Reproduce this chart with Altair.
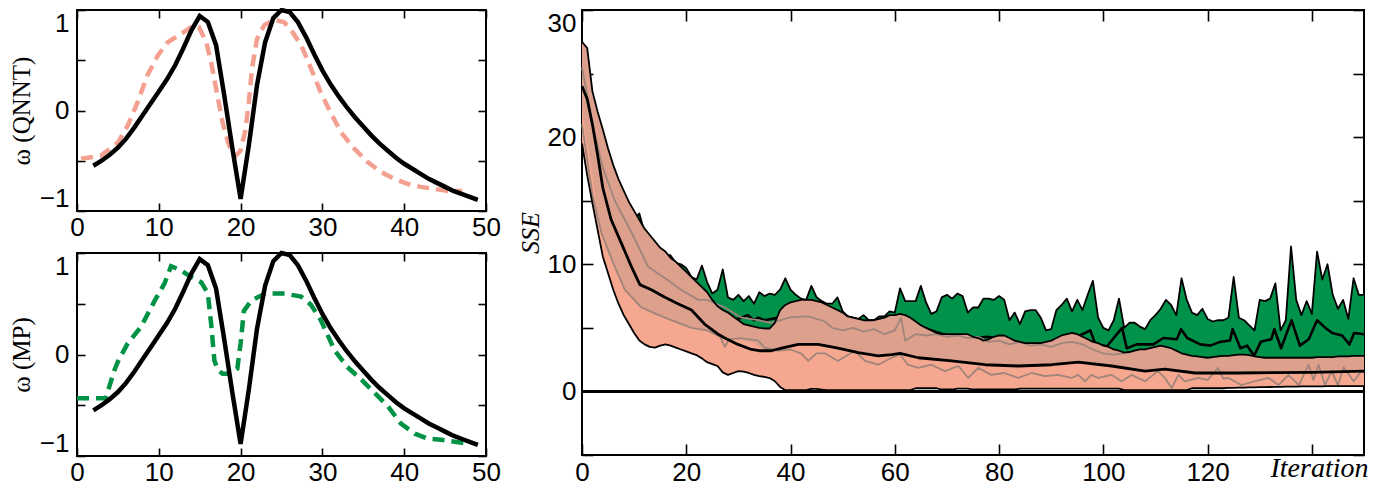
import altair as alt
import pandas as pd

# ---------------- left panels: omega profiles ----------------
omega_x = list(range(2, 50))
omega_true = [-0.55, -0.50, -0.44, -0.37, -0.28, -0.17, -0.05, 0.07, 0.19, 0.31,
              0.45, 0.62, 0.80, 0.94, 0.88, 0.65, 0.15, -0.38, -0.88, -0.35,
              0.25, 0.68, 0.92, 1.0, 0.98, 0.88, 0.73, 0.56, 0.40, 0.26,
              0.14, 0.03, -0.07, -0.16, -0.25, -0.33, -0.40, -0.47, -0.53, -0.58,
              -0.63, -0.68, -0.72, -0.76, -0.80, -0.83, -0.86, -0.89]

qnnt_x = [0.5, 2.9, 5.0, 6.2, 7.4, 8.6, 9.9, 11.1, 12.7, 14.3,
          14.9, 15.8, 16.4, 17.0, 17.8, 18.6, 19.4, 20.0, 20.6, 21.0,
          21.4, 22.0, 22.9, 24.1, 25.3, 26.1, 27.4, 28.6, 29.8, 31.0,
          32.3, 33.9, 35.5, 37.1, 38.8, 40.4, 42.0, 43.7, 45.3, 47.1]
qnnt_y = [-0.48, -0.45, -0.32, -0.15, 0.08, 0.35, 0.55, 0.68, 0.76, 0.85,
          0.83, 0.68, 0.48, 0.22, -0.12, -0.35, -0.45, -0.40, -0.19, 0.08,
          0.42, 0.71, 0.85, 0.9, 0.88, 0.81, 0.65, 0.42, 0.18, -0.02,
          -0.22, -0.38, -0.51, -0.61, -0.68, -0.73, -0.76, -0.78, -0.80, -0.80]

mp_x = [0, 3.5, 4.6, 5.0, 6.2, 7.8, 9.5, 10.7, 11.5, 12.7,
        14.0, 15.2, 16.0, 16.4, 16.8, 17.2, 17.8, 18.8, 19.6, 20.0,
        20.4, 21.3, 23.0, 25.4, 27.4, 28.6, 29.8, 31.5, 33.0, 34.8,
        36.4, 38.0, 39.6, 41.3, 42.9, 44.5, 47.0, 47.8]
mp_y = [-0.43, -0.43, -0.15, -0.07, 0.11, 0.27, 0.53, 0.70, 0.87, 0.83,
        0.76, 0.71, 0.60, 0.30, -0.06, -0.15, -0.19, -0.19, -0.14, 0.11,
        0.43, 0.53, 0.60, 0.60, 0.57, 0.49, 0.34, 0.04, -0.12, -0.25,
        -0.38, -0.51, -0.68, -0.78, -0.83, -0.84, -0.87, -0.87]

left_x_ticks = [0, 10, 20, 30, 40, 50]
left_y_ticks = [-1, -0.5, 0, 0.5, 1]

# ---------------- right panel: SSE vs iteration ----------------
iteration = list(range(0, 151))
qnnt_upper = [27.5, 27.0, 23.6, 22.0, 20.6, 19.1, 17.8, 16.7, 15.8, 14.9,
              14.2, 13.5, 12.8, 12.3, 11.8, 11.3, 11.0, 10.5, 10.2, 9.8,
              9.4, 9.0, 8.6, 8.2, 7.8, 7.2, 6.7, 6.4, 6.2, 5.9,
              5.6, 5.3, 5.2, 5.1, 5.0, 4.95, 4.95, 5.4, 6.4, 6.8,
              7.0, 7.1, 7.2, 7.2, 7.2, 7.1, 7.0, 6.8, 6.6, 6.4,
              6.2, 5.9, 5.8, 5.7, 5.6, 5.6, 5.6, 5.7, 5.8, 6.0,
              6.0, 6.1, 6.0, 5.8, 5.5, 5.2, 5.0, 4.8, 4.6, 4.5,
              4.5, 4.5, 4.5, 4.5, 4.5, 4.3, 4.2, 4.0, 4.1, 4.3,
              4.4, 4.4, 4.2, 4.0, 3.9, 3.8, 3.8, 3.8, 3.8, 3.9,
              4.0, 4.2, 4.4, 4.5, 4.6, 4.5, 4.3, 4.1, 3.9, 3.8,
              3.6, 3.5, 3.3, 3.2, 3.05, 3.1, 3.2, 3.3, 3.3, 3.4,
              3.5, 3.6, 3.5, 3.4, 3.2, 3.0, 2.9, 2.8, 2.75, 2.7,
              2.65, 2.7, 2.75, 2.8, 2.8, 2.85, 2.9, 2.9, 2.85, 2.75,
              2.7, 2.65, 2.65, 2.65, 2.65, 2.65, 2.65, 2.65, 2.65, 2.65,
              2.65, 2.7, 2.7, 2.7, 2.7, 2.75, 2.75, 2.75, 2.8, 2.8, 2.8]
qnnt_lower = [19.5, 17.0, 14.8, 12.7, 10.6, 9.3, 8.0, 6.9, 6.0, 5.3,
              4.6, 4.0, 3.7, 3.5, 3.45, 3.6, 3.7, 3.6, 3.45, 3.3,
              3.15, 3.0, 2.85, 2.6, 2.3, 2.15, 2.0, 1.5, 1.3, 1.45,
              1.6, 1.55, 1.45, 1.3, 1.2, 1.15, 1.05, 0.8, 0.35, 0.1,
              0.1, 0.1, 0.1, 0.1, 0.2, 0.2, 0.15, 0.1, 0.1, 0.1,
              0.1, 0.1, 0.1, 0.1, 0.1, 0.1, 0.1, 0.1, 0.1, 0.1,
              0.1, 0.1, 0.1, 0.1, 0.25, 0.25, 0.25, 0.25, 0.25, 0.15,
              0.15, 0.15, 0.22, 0.22, 0.22, 0.15, 0.15, 0.15, 0.15, 0.15,
              0.15, 0.15, 0.15, 0.15, 0.22, 0.22, 0.22, 0.22, 0.22, 0.22,
              0.22, 0.22, 0.22, 0.22, 0.22, 0.22, 0.22, 0.22, 0.22, 0.22,
              0.22, 0.22, 0.22, 0.22, 0.1, 0.1, 0.1, 0.1, 0.1, 0.1,
              0.1, 0.1, 0.1, 0.1, 0.1, 0.1, 0.1, 0.25, 0.25, 0.25,
              0.25, 0.25, 0.25, 0.25, 0.28, 0.28, 0.3, 0.3, 0.32, 0.32,
              0.34, 0.34, 0.35, 0.36, 0.36, 0.38, 0.38, 0.38, 0.4, 0.4,
              0.4, 0.4, 0.4, 0.42, 0.42, 0.42, 0.42, 0.42, 0.42, 0.42, 0.42]
qnnt_core_lower = [22.0, 19.5, 17.0, 14.0, 12.0, 10.8, 10.0, 9.0, 8.2, 7.6,
                   7.1, 6.7, 6.4, 6.2, 6.0, 5.9, 5.8, 5.6, 5.4, 5.2,
                   5.1, 5.0, 4.9, 4.8, 4.75, 4.6, 4.4, 4.1, 4.0, 4.1,
                   4.1, 4.0, 3.9, 3.8, 3.5, 3.3, 3.2, 3.3, 3.4, 3.55,
                   3.6, 3.7, 3.7, 3.75, 3.75, 3.7, 3.65, 3.55, 3.5, 3.4,
                   3.3, 3.2, 3.1, 3.05, 3.0, 2.95, 2.85, 2.8, 2.85, 2.9,
                   2.95, 3.0, 2.8, 2.7, 2.65, 2.6, 2.55, 2.5, 2.45, 2.4,
                   2.4, 2.35, 2.3, 2.25, 2.2, 2.15, 2.1, 2.1, 2.05, 2.05,
                   2.0, 2.0, 2.0, 2.0, 2.0, 2.0, 2.0, 2.0, 2.0, 2.05,
                   2.1, 2.15, 2.2, 2.3, 2.35, 2.35, 2.3, 2.25, 2.2, 2.1,
                   2.05, 2.0, 1.9, 1.8, 1.7, 1.65, 1.6, 1.6, 1.6, 1.65,
                   1.7, 1.75, 1.75, 1.7, 1.6, 1.55, 1.5, 1.45, 1.45, 1.45,
                   1.45, 1.45, 1.45, 1.45, 1.45, 1.45, 1.45, 1.45, 1.45, 1.45,
                   1.45, 1.45, 1.45, 1.45, 1.45, 1.45, 1.45, 1.5, 1.5, 1.5,
                   1.5, 1.5, 1.5, 1.5, 1.55, 1.55, 1.55, 1.55, 1.55, 1.55, 1.55]
mp_upper = [24.0, 22.0, 20.0, 18.5, 17.5, 16.5, 15.7, 15.0, 14.5, 14.0,
            13.6, 14.0, 12.5, 12.0, 11.5, 11.0, 10.8, 10.7, 10.1, 10.0,
            9.7, 9.0, 8.8, 9.9, 8.6, 7.7, 8.0, 9.6, 7.4, 7.2,
            7.6, 7.1, 7.5, 6.9, 7.8, 7.5, 7.7, 7.6, 8.0, 8.9,
            8.0, 7.6, 7.3, 7.2, 8.3, 7.4, 7.1, 6.9, 6.9, 7.4,
            6.3, 5.9, 5.8, 5.7, 6.0, 5.6, 5.6, 5.9, 5.9, 6.3,
            6.2, 8.1, 7.1, 7.1, 7.1, 8.3, 7.0, 6.1, 6.3, 7.4,
            7.6, 7.3, 7.7, 7.5, 6.2, 6.6, 6.6, 7.3, 7.3, 7.2,
            7.5, 7.2, 5.6, 6.2, 5.3, 6.3, 6.4, 6.4, 5.8, 4.8,
            4.9, 6.4, 6.8, 7.3, 6.3, 7.2, 6.4, 7.6, 8.7, 5.8,
            5.0, 4.8, 5.6, 7.3, 5.0, 5.4, 5.4, 5.1, 4.9, 5.6,
            6.0, 6.5, 7.2, 6.8, 6.0, 8.9, 7.2, 6.2, 6.0, 6.5,
            5.7, 5.5, 5.6, 5.6, 5.8, 9.0, 5.8, 5.6, 5.2, 4.8,
            7.2, 7.1, 7.3, 8.5, 4.8, 5.6, 11.4, 7.2, 6.0, 7.1,
            6.1, 11.0, 8.8, 10.0, 7.6, 6.5, 7.2, 5.7, 8.9, 7.6, 7.6]

qnnt_mean_x = [0, 1, 2, 3, 4, 5.6, 7.5, 9.5, 11.1, 13.3, 15.9, 18.4, 21, 23.5,
               26.1, 27.4, 29.9, 32.5, 34, 36.3, 38.3, 41.5, 45.3, 49.1, 53,
               56.8, 59.4, 61, 64.5, 70.9, 77.3, 83.7, 90.1, 95.2, 101.6, 108,
               111.8, 117.6, 125.9, 140, 150]
qnnt_mean_y = [24.0, 23.0, 21.0, 18.6, 16.0, 13.5, 11.7, 9.8, 8.4, 8.0, 7.4, 6.9,
               6.4, 5.3, 4.5, 4.2, 3.7, 3.3, 3.2, 3.2, 3.4, 3.7, 3.7, 3.4, 3.05,
               2.8, 2.9, 3.0, 2.65, 2.4, 2.1, 2.0, 2.1, 2.3, 2.0, 1.6, 1.75,
               1.45, 1.45, 1.5, 1.6]

qnnt_qhi_x = [0, 2, 4, 6.3, 9.5, 12.7, 16.5, 19, 22.3, 24, 27.4, 30.6, 33.8, 36.3,
              38.9, 40.2, 43.4, 46.6, 48, 50, 52, 54, 56, 58, 60, 61.2, 62, 64,
              66, 68, 70, 72, 74, 76, 78, 80, 82, 84, 86, 88, 90, 92, 94, 96,
              98, 100, 102, 104]
qnnt_qhi_y = [25.5, 21.0, 17.6, 15.0, 12.5, 9.8, 8.75, 8.0, 7.2, 7.2, 6.6, 5.8,
              5.6, 5.4, 5.7, 5.85, 5.9, 5.5, 5.0, 4.8, 5.0, 4.7, 4.9, 4.5, 4.8,
              5.8, 4.0, 4.5, 4.4, 4.5, 4.3, 4.4, 4.2, 4.3, 3.9, 4.0, 3.7, 3.9,
              3.6, 3.7, 3.5, 3.8, 3.9, 3.7, 3.3, 3.0, 2.9, 3.0]

qnnt_qlo_x = [0, 2, 3.7, 6.3, 8.2, 11.4, 15.9, 21, 24, 26.5, 27.4, 28.2, 30.6,
              33.8, 35, 37.6, 40, 42, 43.4, 45, 46.6, 49.1, 52.3, 54.3, 56.8,
              59.4, 61, 62.5, 64.5, 67, 69.6, 72.2, 74.1, 76, 78.5, 81, 83.7,
              86.2, 88.8, 91.3, 93.9, 95.2, 96.5, 97.7, 99, 101.6, 103.5, 105.4,
              108, 110.5, 111.8, 113.1, 114.4, 115.6, 118.2, 120, 122, 123, 124,
              126.5, 129, 131.7, 133.6, 135.5, 137.5, 139.4, 140.3, 141.3, 142.5,
              143.8, 145, 146.1, 148, 149.5, 150]
qnnt_qlo_y = [21.0, 15.5, 12.5, 9.8, 8.0, 6.6, 5.8, 5.0, 4.8, 4.3, 3.5, 4.1, 4.2,
              4.0, 3.45, 3.2, 3.3, 3.0, 2.4, 3.0, 3.0, 2.4, 3.2, 2.4, 2.1,
              2.65, 2.9, 2.1, 1.85, 2.1, 1.6, 2.0, 1.06, 1.85, 1.3, 1.45, 1.06,
              1.45, 1.2, 1.3, 1.06, 1.3, 0.8, 1.3, 1.06, 1.3, 0.8, 1.3,
              0.8, 1.6, 1.06, 0.26, 1.3, 0.8, 1.06, 0.9, 1.85, 1.0, 1.06,
              0.5, 0.8, 1.06, 0.5, 1.3, 0.5, 2.1, 0.9, 2.1, 0.5,
              1.6, 0.5, 1.9, 0.8, 1.6, 1.5]

mp_mean_x = [28, 30.6, 31.8, 33, 33.8, 35, 36.3, 37.6, 38.5, 40, 45, 50, 55, 60,
             64, 70, 75, 77.5, 80, 85, 90, 95, 97.5, 98.5, 100.7, 102, 103.6,
             104.5, 106.4, 109.6, 111.5, 114.1, 114.9, 116.1, 118.6, 120.5, 122.4,
             124.3, 124.8, 126.3, 127.6, 128.9, 130.2, 132.2, 132.8, 134.1, 136.1,
             137.7, 139.4, 141, 142.6, 143.9, 145.8, 147.2, 148.1, 150]
mp_mean_y = [5.5, 5.8, 6.0, 5.6, 5.8, 5.6, 5.7, 5.8, 6.2, 6.6, 6.8, 5.8, 5.3, 5.7,
             5.2, 4.4, 4.1, 4.3, 4.2, 3.7, 3.8, 4.3, 4.8, 3.7, 3.55, 4.2, 5.0,
             3.4, 3.7, 3.7, 4.2, 4.1, 4.9, 4.2, 3.7, 3.6, 3.9, 4.0, 4.9, 3.4,
             3.6, 2.8, 3.9, 4.1, 4.9, 3.4, 5.6, 3.6, 4.1, 5.6, 5.0, 4.6, 4.4,
             3.7, 4.6, 4.5]

right_x_ticks = [0, 20, 40, 60, 80, 100, 120, 140]
right_y_ticks = [-5, 0, 5, 10, 15, 20, 25, 30]
zero_level = [0.0]

# ---------------- styling ----------------
NUM_FONT = "Liberation Sans"
SERIF = "Liberation Serif"
FS = 26
TS_L = 8
TS_R = 11
GREEN = "#00924A"
SALMON = "#F5A88F"
SALMON_DARK = "#DCA08D"
GRAY = "#A0857B"
DASH_SALMON = "#F4A090"
DASH_GREEN = "#009245"


def ax(orient, values, ts, pad, labels=True, label_expr=None, **kw):
    args = dict(orient=orient, values=values, offset=-ts, tickSize=ts,
                domain=False, grid=False, labels=labels)
    if labels:
        args.update(labelPadding=pad, labelFont=NUM_FONT, labelFontSize=FS,
                    labelColor="black")
        if label_expr:
            args["labelExpr"] = label_expr
    args.update(kw)
    return alt.Axis(**args)


def left_panel(dx, dy, dcolor, ytitle, height):
    xs = alt.Scale(domain=[0, 50], nice=False)
    ys = alt.Scale(domain=[-1, 1], nice=False)
    truth = pd.DataFrame({"pos": omega_x, "omega": omega_true})
    est = pd.DataFrame({"pos": dx, "omega": dy})
    dashed = alt.Chart(est).mark_line(color=dcolor, strokeWidth=4.5,
                                      strokeDash=[12, 7]).encode(
        x=alt.X("pos:Q", scale=xs, axis=None),
        y=alt.Y("omega:Q", scale=ys, axis=None))
    solid = alt.Chart(truth).mark_line(color="black", strokeWidth=4.5).encode(
        x=alt.X("pos:Q", scale=xs,
                axis=ax("bottom", left_x_ticks, TS_L, 3, title=None,
                        labelFlush=False)),
        y=alt.Y("omega:Q", scale=ys,
                axis=ax("left", left_y_ticks, TS_L, 8,
                        label_expr="abs(datum.value) == 0.5 ? '' : format(datum.value, 'd')",
                        labelFlush=True, title=ytitle, titleFont=SERIF,
                        titleFontSize=25, titleFontWeight="normal",
                        titleColor="black", titlePadding=5)))
    mirror = alt.Chart(truth).mark_line(opacity=0).encode(
        x=alt.X("pos:Q", scale=xs, axis=ax("top", left_x_ticks, TS_L, 0, labels=False, title=None)),
        y=alt.Y("omega:Q", scale=ys, axis=ax("right", left_y_ticks, TS_L, 0, labels=False, title=None)))
    return alt.layer(dashed, solid, mirror).resolve_axis(
        x="independent", y="independent").properties(width=409, height=height)


top = left_panel(qnnt_x, qnnt_y, DASH_SALMON, "ω (QNNT)", 201)
bottom = left_panel(mp_x, mp_y, DASH_GREEN, "ω (MP)", 203)

# right panel
xr = alt.Scale(domain=[0, 150], nice=False)
yr = alt.Scale(domain=[-5, 30], nice=False)
bands = pd.DataFrame({"it": iteration, "qn_hi": qnnt_upper, "qn_lo": qnnt_lower,
                      "qn_core": qnnt_core_lower, "mp_hi": mp_upper})
base = alt.Chart(bands)


def ln(xv, yv, color, width):
    d = pd.DataFrame({"it": xv, "sse": yv})
    return alt.Chart(d).mark_line(color=color, strokeWidth=width,
                                  strokeJoin="round").encode(
        x=alt.X("it:Q", scale=xr, axis=None),
        y=alt.Y("sse:Q", scale=yr, axis=None))


green_area = base.mark_area(color=GREEN, opacity=1).encode(
    x=alt.X("it:Q", scale=xr,
            axis=ax("bottom", right_x_ticks, TS_R, 4,
                    label_expr="datum.value == 140 ? '' : datum.label",
                    labelFlush=False,
                    title="Iteration", titleFont=SERIF, titleFontStyle="italic",
                    titleFontSize=28, titleFontWeight="normal", titleColor="black",
                    titleX=737, titleY=24, titleAlign="center",
                    titleBaseline="middle", titleAngle=0)),
    y=alt.Y("mp_hi:Q", scale=yr,
            axis=ax("left", right_y_ticks, TS_R, 6,
                    label_expr="datum.value % 10 == 0 ? datum.label : ''",
                    labelFlush=True,
                    title="SSE", titleFont=SERIF, titleFontStyle="italic",
                    titleFontSize=26, titleFontWeight="normal",
                    titleColor="black", titlePadding=4)),
    y2="qn_lo:Q")
mp_hi_line = ln(iteration, mp_upper, "black", 1.8)
mp_mean_line = ln(mp_mean_x, mp_mean_y, "black", 2.6)
salmon_area = base.mark_area(color=SALMON, opacity=1).encode(
    x=alt.X("it:Q", scale=xr, axis=None),
    y=alt.Y("qn_hi:Q", scale=yr, axis=None), y2="qn_lo:Q")
core_area = base.mark_area(color=SALMON_DARK, opacity=1).encode(
    x=alt.X("it:Q", scale=xr, axis=None),
    y=alt.Y("qn_hi:Q", scale=yr, axis=None), y2="qn_core:Q")
qhi_line = ln(qnnt_qhi_x, qnnt_qhi_y, GRAY, 1.8)
qlo_line = ln(qnnt_qlo_x, qnnt_qlo_y, GRAY, 1.8)
qn_hi_line = ln(iteration, qnnt_upper, "black", 1.8)
qn_lo_line = ln(iteration, qnnt_lower, "black", 1.8)
qn_mean_line = ln(qnnt_mean_x, qnnt_mean_y, "black", 2.8)
zero_rule = alt.Chart(pd.DataFrame({"sse": zero_level})).mark_rule(
    color="black", strokeWidth=3).encode(y=alt.Y("sse:Q", scale=yr, axis=None))
mirror_r = base.mark_line(opacity=0).encode(
    x=alt.X("it:Q", scale=xr, axis=ax("top", right_x_ticks, TS_R, 0, labels=False, title=None)),
    y=alt.Y("qn_hi:Q", scale=yr, axis=ax("right", right_y_ticks, TS_R, 0, labels=False, title=None)))

right = alt.layer(green_area, mp_hi_line, mp_mean_line, salmon_area, core_area,
                  qhi_line, qlo_line, qn_hi_line, qn_lo_line, qn_mean_line,
                  zero_rule, mirror_r).resolve_axis(
    x="independent", y="independent").properties(width=782, height=445)

left = alt.vconcat(top, bottom, spacing=2)
chart = alt.hconcat(left, right, spacing=14).properties(
    padding={"left": 0, "top": -8, "right": 0, "bottom": 0}
).configure_view(stroke="black", strokeWidth=2).configure_axis(
    tickColor="black", tickWidth=1.6)

chart.save("out.html", embed_options={"renderer": "svg", "actions": False})
